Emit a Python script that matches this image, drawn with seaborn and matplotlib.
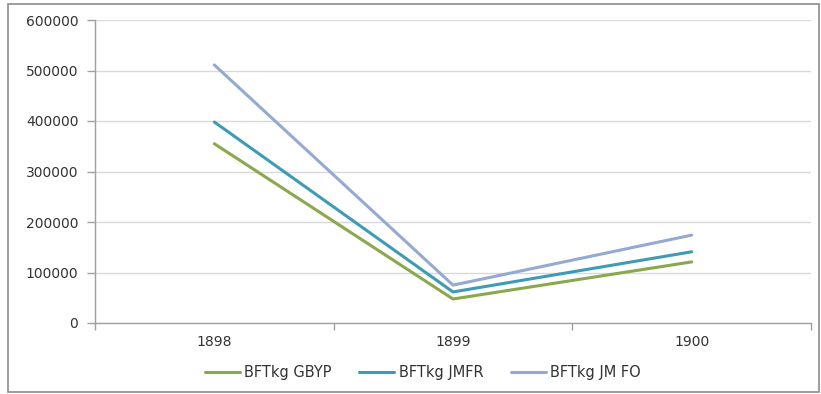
import matplotlib
matplotlib.use("Agg")
import matplotlib.pyplot as plt
import seaborn as sns
import pandas as pd
from matplotlib.patches import Rectangle

years = ["1898", "1899", "1900"]
gbyp = [355000, 47500, 121000]
jmfr = [398000, 61500, 141000]
jmfo = [511000, 75000, 174000]
series_names = ["BFTkg GBYP", "BFTkg JMFR", "BFTkg JM FO"]
yticks = [0, 100000, 200000, 300000, 400000, 500000, 600000]

colors = ["#8BA84C", "#3E9BB5", "#94AAD3"]

rows = []
for name, vals in zip(series_names, [gbyp, jmfr, jmfo]):
    for y, v in zip(years, vals):
        rows.append({"year": y, "value": v, "series": name})
df = pd.DataFrame(rows)

sns.set_style("white")
plt.rcParams['font.family'] = ['DejaVu Sans']

fig = plt.figure(figsize=(8.21, 3.94), dpi=100)
ax = fig.add_axes([95/821, 1-323/394, (811-95)/821, (323-20)/394])

sns.lineplot(data=df, x="year", y="value", hue="series", palette=colors,
             linewidth=2.2, ax=ax, sort=False, legend=True)

ax.set_xlim(-0.5, 2.5)
ax.set_ylim(0, 600000)
ax.set_yticks(yticks)
ax.set_yticklabels([str(t) for t in yticks], fontsize=10, color="#333333")
ax.set_xticks(range(len(years)))
ax.set_xticklabels(years, fontsize=10, color="#333333")
ax.tick_params(axis="x", which="major", length=0, pad=9, bottom=True)
ax.set_xticks([-0.5, 0.5, 1.5, 2.5], minor=True)
ax.tick_params(axis="x", which="minor", length=5, color="#A0A0A0", width=1,
               direction="out", bottom=True)
ax.tick_params(axis="y", length=6, color="#A0A0A0", width=1, direction="out",
               pad=6, left=True)
ax.set_xlabel("")
ax.set_ylabel("")
ax.yaxis.grid(True, color="#D9D9D9", linewidth=1)
ax.set_axisbelow(True)
for s in ["top", "right"]:
    ax.spines[s].set_visible(False)
for s in ["left", "bottom"]:
    ax.spines[s].set_color("#A0A0A0")
    ax.spines[s].set_linewidth(1)

handles, labels = ax.get_legend_handles_labels()
ax.legend(handles, labels, ncol=3, frameon=False, loc="center",
          bbox_to_anchor=(0.5 + (423 - 453)/716, 1 - (373-20)/303), bbox_transform=ax.transAxes,
          fontsize=10.5, handlelength=2.4, handletextpad=0.3, columnspacing=1.9,
          labelcolor="#333333")

fig.patches.append(Rectangle((8/821, 1-392/394), (819-8)/821, (392-4)/394,
                             transform=fig.transFigure, fill=False,
                             edgecolor="#8C8C8C", linewidth=1.2))

fig.savefig("out.png", dpi=100)
